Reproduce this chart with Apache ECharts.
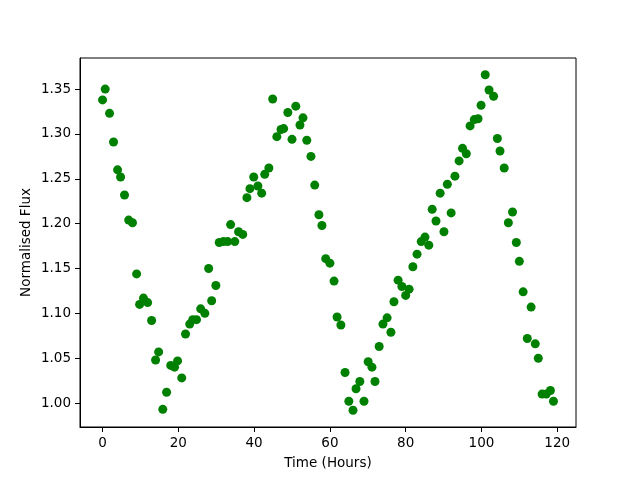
<!DOCTYPE html>
<html>
<head>
<meta charset="utf-8">
<script src="https://cdn.jsdelivr.net/npm/echarts@6/dist/echarts.min.js"></script>
<style>
  html, body { margin: 0; padding: 0; background: #fff; }
  #main { width: 640px; height: 480px; }
</style>
</head>
<body>
<div id="main"></div>
<script>
var chartDom = document.getElementById('main');
var myChart = echarts.init(chartDom);
var option;

// time of each sample (hours)
var hours = [
    0, 0.7, 1.85, 2.9, 3.97, 4.76, 5.8, 6.9, 7.9, 8.99,
    9.78, 10.8, 11.9, 12.95, 14.0, 14.8, 15.9, 16.9, 18.0, 19.0,
    19.8, 20.9, 21.9, 23.0, 23.8, 24.8, 25.9, 27.0, 28.0, 28.8,
    29.9, 30.8, 31.9, 33.0, 33.8, 34.9, 35.9, 37.0,
    38.1, 38.9, 39.9, 41.0, 42.0, 42.8, 43.9, 44.9, 46.0, 47.1,
    47.8, 48.9, 50.0, 51.0, 52.1, 52.9, 53.9, 55.0, 56.0, 57.1,
    57.9, 58.9, 60.0, 61.1, 61.9, 62.9, 64.0, 65.0, 66.1, 66.9,
    67.9, 69.0, 70.1, 71.1, 71.9, 73.0, 74.0, 75.1, 76.1, 76.9,
    78.0, 79.0, 80.0,
    80.9, 81.9, 83.0, 84.1, 85.1, 86.1, 87.0, 88.0, 89.1, 90.1,
    91.0, 92.0, 93.0, 94.1, 95.0, 96.0, 97.0, 98.1, 99.1, 99.9,
    101.0, 102.0, 103.2, 104.2, 104.9, 106.0, 107.1, 108.2, 109.2, 110.0,
    111.0, 112.1, 113.1, 114.2, 115.0, 116.0, 117.1, 118.2, 119.0
];

// normalised flux at each sample
var flux = [
    1.338, 1.350, 1.323, 1.291, 1.260, 1.252, 1.232, 1.204, 1.201, 1.144,
    1.110, 1.117, 1.112, 1.092, 1.048, 1.057, 0.993, 1.012, 1.042, 1.040,
    1.047, 1.028, 1.077, 1.088, 1.093, 1.093, 1.105, 1.100, 1.150, 1.114,
    1.131, 1.179, 1.180, 1.180, 1.199, 1.180, 1.191, 1.188,
    1.229, 1.239, 1.252, 1.242, 1.234, 1.255, 1.262, 1.339, 1.297, 1.305,
    1.306, 1.324, 1.294, 1.331, 1.310, 1.318, 1.293, 1.275, 1.243, 1.210,
    1.198, 1.161, 1.156, 1.136, 1.096, 1.087, 1.034, 1.002, 0.992, 1.016,
    1.024, 1.002, 1.046, 1.040, 1.024, 1.063, 1.088, 1.095, 1.079, 1.113,
    1.137, 1.130, 1.120,
    1.127, 1.152, 1.166, 1.180, 1.185, 1.176, 1.216, 1.203, 1.234, 1.191,
    1.244, 1.212, 1.253, 1.270, 1.284, 1.278, 1.309, 1.316, 1.317, 1.332,
    1.366, 1.349, 1.342, 1.295, 1.281, 1.262, 1.201, 1.213, 1.179, 1.158,
    1.124, 1.072, 1.107, 1.066, 1.050, 1.010, 1.010, 1.014, 1.002
];

var xTicks = [0, 20, 40, 60, 80, 100, 120];
var yTicks = [1.00, 1.05, 1.10, 1.15, 1.20, 1.25, 1.30, 1.35];

var points = [];
for (var i = 0; i < hours.length; i++) {
    points.push([hours[i], flux[i]]);
}

var font = 'DejaVu Sans';

option = {
    animation: false,
    backgroundColor: '#fff',
    grid: {
        left: 80,
        right: 64,
        top: 58,
        bottom: 53,
        show: true,
        borderColor: '#000',
        borderWidth: 1
    },
    xAxis: {
        type: 'value',
        min: -5.95,
        max: 124.95,
        name: 'Time (Hours)',
        nameLocation: 'middle',
        nameGap: 29,
        nameMoveOverlap: false,
        nameTextStyle: { color: '#000', fontFamily: font, fontSize: 13.5 },
        axisLine: { onZero: false, lineStyle: { color: '#000', width: 1 } },
        axisTick: { show: true, inside: false, length: 5, customValues: xTicks, lineStyle: { color: '#000' } },
        axisLabel: { margin: 9, color: '#000', fontFamily: font, fontSize: 13.5, customValues: xTicks },
        splitLine: { show: false }
    },
    yAxis: {
        type: 'value',
        min: 0.9733,
        max: 1.3847,
        name: 'Normalised Flux',
        nameLocation: 'middle',
        nameGap: 47,
        nameMoveOverlap: false,
        nameTextStyle: { color: '#000', fontFamily: font, fontSize: 13.5 },
        axisLine: { show: true, onZero: false, lineStyle: { color: '#000', width: 1 } },
        axisTick: { show: true, inside: false, length: 5, customValues: yTicks, lineStyle: { color: '#000' } },
        axisLabel: {
            margin: 9, color: '#000', fontFamily: font, fontSize: 13.5, customValues: yTicks,
            formatter: function (v) { return v.toFixed(2); }
        },
        splitLine: { show: false }
    },
    series: [{
        type: 'scatter',
        symbol: 'circle',
        symbolSize: 9,
        itemStyle: { color: '#008000', opacity: 1 },
        data: points
    }]
};

option && myChart.setOption(option);
</script>
</body>
</html>
